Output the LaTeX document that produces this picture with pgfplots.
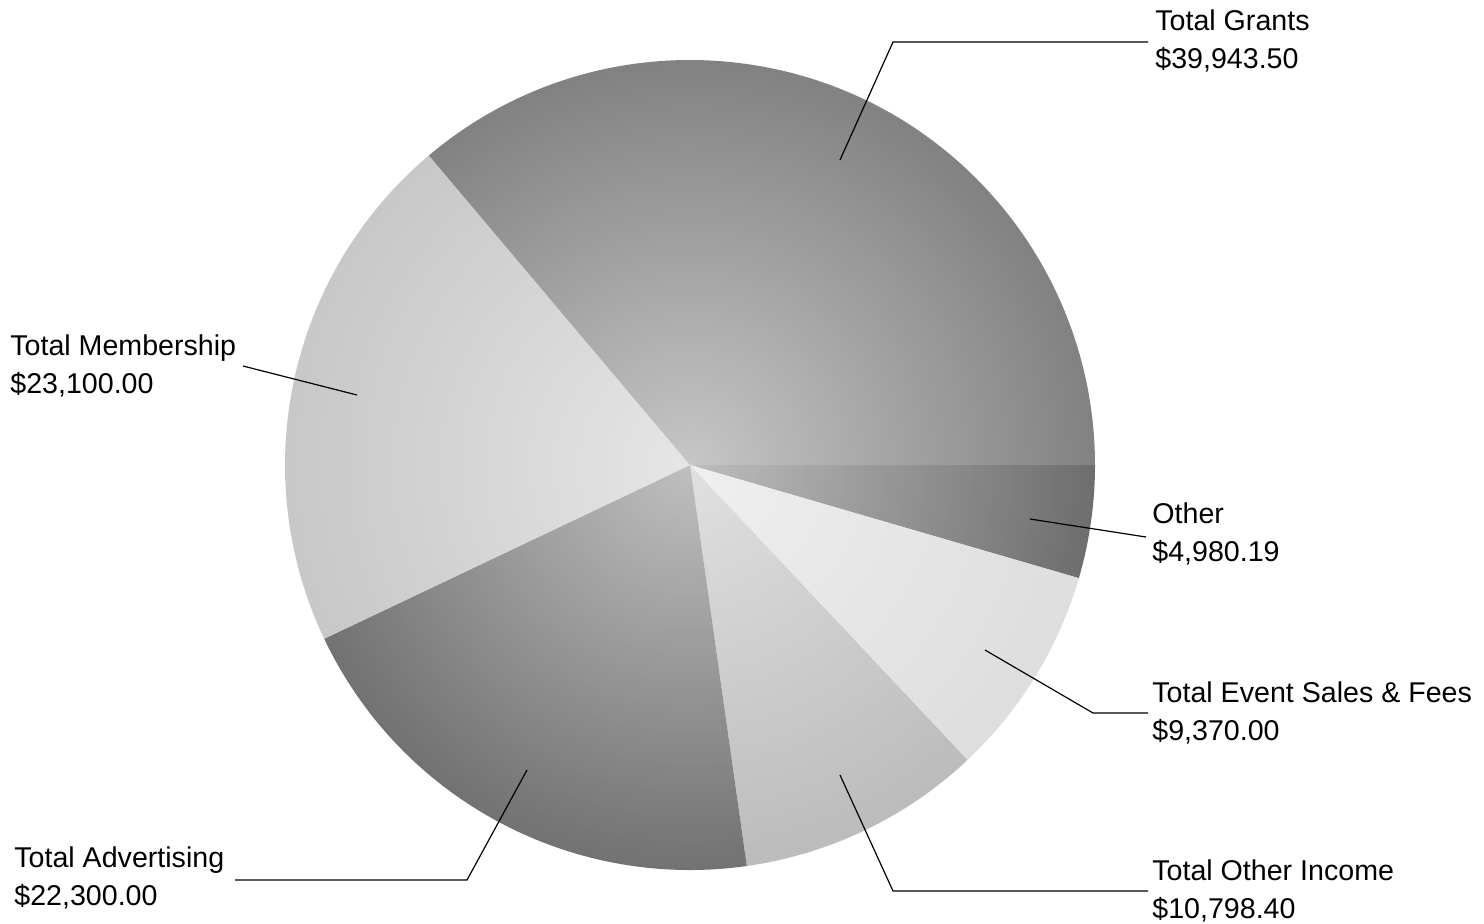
\documentclass[border=0pt]{standalone}
\usepackage{pgfplots}
\pgfplotsset{compat=1.18}
\usepackage{pgfplotstable}
\usepackage{fontspec}
\setmainfont{Liberation Sans}
\usetikzlibrary{fadings}

% income by category, in drawing order (clockwise from 3 o'clock)
\pgfplotstableread[col sep=comma]{
key,value
Other,4980.19
Event,9370.00
OtherIncome,10798.40
Advertising,22300.00
Membership,23100.00
Grants,39943.50
}\piedata

\pgfplotstablegetelem{0}{value}\of\piedata \edef\vA{\pgfplotsretval}
\pgfplotstablegetelem{1}{value}\of\piedata \edef\vB{\pgfplotsretval}
\pgfplotstablegetelem{2}{value}\of\piedata \edef\vC{\pgfplotsretval}
\pgfplotstablegetelem{3}{value}\of\piedata \edef\vD{\pgfplotsretval}
\pgfplotstablegetelem{4}{value}\of\piedata \edef\vE{\pgfplotsretval}
\pgfplotstablegetelem{5}{value}\of\piedata \edef\vF{\pgfplotsretval}
\edef\tot{\fpeval{\vA+\vB+\vC+\vD+\vE+\vF}}
\def\aA{0}
\edef\aB{\fpeval{\aA-360*\vA/\tot}}
\edef\aC{\fpeval{\aB-360*\vB/\tot}}
\edef\aD{\fpeval{\aC-360*\vC/\tot}}
\edef\aE{\fpeval{\aD-360*\vD/\tot}}
\edef\aF{\fpeval{\aE-360*\vE/\tot}}
\def\aG{-360}

\definecolor{cOther}{HTML}{6E6E6E}
\definecolor{cEvent}{HTML}{DEDEDE}
\definecolor{cOtherInc}{HTML}{BCBCBC}
\definecolor{cAdv}{HTML}{727272}
\definecolor{cMem}{HTML}{C8C8C8}
\definecolor{cGrants}{HTML}{828282}

\pgfdeclareradialshading{piemask}{\pgfpointorigin}{%
  color(0bp)=(pgftransparent!45); color(25bp)=(pgftransparent!100);
  color(50bp)=(pgftransparent!100)}
\pgfdeclarefading{piefade}{\pgfuseshading{piemask}}

\newcommand\lf{\fontsize{14.3pt}{17pt}\selectfont}
\def\R{202.5pt}

\begin{document}
\begin{tikzpicture}
\begin{axis}[hide axis, scale only axis, width=742pt, height=461.5pt,
  xmin=0, xmax=1484, ymin=0, ymax=923, y dir=reverse, clip=false]
\addplot[draw=none] coordinates {(0,0) (1484,923)};

\fill[cOther]    (axis cs:690,465) -- ++(\aA:\R) arc[start angle=\aA, end angle=\aB, radius=\R] -- cycle;
\fill[cEvent]    (axis cs:690,465) -- ++(\aB:\R) arc[start angle=\aB, end angle=\aC, radius=\R] -- cycle;
\fill[cOtherInc] (axis cs:690,465) -- ++(\aC:\R) arc[start angle=\aC, end angle=\aD, radius=\R] -- cycle;
\fill[cAdv]      (axis cs:690,465) -- ++(\aD:\R) arc[start angle=\aD, end angle=\aE, radius=\R] -- cycle;
\fill[cMem]      (axis cs:690,465) -- ++(\aE:\R) arc[start angle=\aE, end angle=\aF, radius=\R] -- cycle;
\fill[cGrants]   (axis cs:690,465) -- ++(\aF:\R) arc[start angle=\aF, end angle=\aG, radius=\R] -- cycle;
\fill[white, path fading=piefade] (axis cs:690,465) circle[radius=\R];

% leader lines
\draw[line width=0.6pt] (axis cs:840,160) -- (axis cs:893,42) -- (axis cs:1148,42);
\draw[line width=0.6pt] (axis cs:1030,519) -- (axis cs:1146,537);
\draw[line width=0.6pt] (axis cs:985,650) -- (axis cs:1093,713) -- (axis cs:1148,713);
\draw[line width=0.6pt] (axis cs:840,775) -- (axis cs:893,891) -- (axis cs:1148,891);
\draw[line width=0.6pt] (axis cs:527,770) -- (axis cs:467,880) -- (axis cs:235,880);
\draw[line width=0.6pt] (axis cs:357,395) -- (axis cs:243,366);

% labels
\tikzset{lab/.style={anchor=base west, inner sep=0pt, font=\lf}}
\node[lab] at (axis cs:1155,30)  {Total Grants};
\node[lab] at (axis cs:1155,68)  {\$39,943.50};
\node[lab] at (axis cs:1152,523) {Other};
\node[lab] at (axis cs:1152,561) {\$4,980.19};
\node[lab] at (axis cs:1152,702) {Total Event Sales \& Fees};
\node[lab] at (axis cs:1152,740) {\$9,370.00};
\node[lab] at (axis cs:1152,880) {Total Other Income};
\node[lab] at (axis cs:1152,918) {\$10,798.40};
\node[lab] at (axis cs:14,867)   {Total Advertising};
\node[lab] at (axis cs:14,905)   {\$22,300.00};
\node[lab] at (axis cs:10,355)   {Total Membership};
\node[lab] at (axis cs:10,393)   {\$23,100.00};
\end{axis}
\end{tikzpicture}
\end{document}
